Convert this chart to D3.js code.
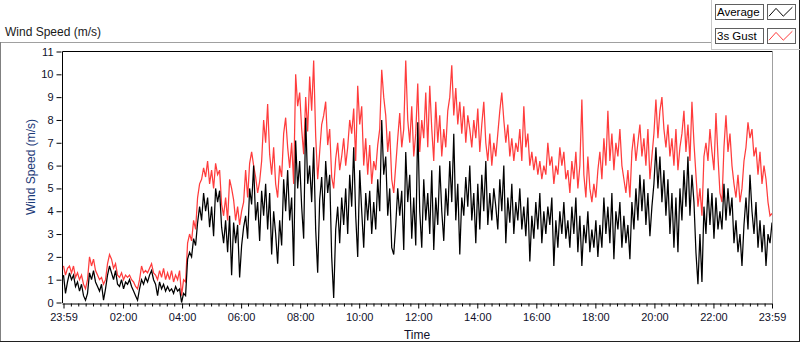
<!DOCTYPE html>
<html>
<head>
<meta charset="utf-8">
<script src="https://cdn.jsdelivr.net/npm/d3@7"></script>
<style>
  html, body { margin: 0; padding: 0; background: #ffffff; }
  svg { display: block; font-family: "Liberation Sans", Arial, sans-serif; }
</style>
</head>
<body>
<svg id="chart" width="800" height="342"></svg>
<script>
// ---- data (wind speed, m/s), samples evenly spread over the day 23:59 -> 23:59 ----
const averageSpeed = [
  1.2,0.4,0.9,1.3,1.0,1.2,0.7,0.9,0.5,0.8,
  0.3,0.1,0.4,1.3,1.0,1.4,0.9,0.7,0.5,0.8,
  0.1,0.6,1.2,1.6,1.3,1.0,1.4,0.8,0.7,1.0,
  0.6,0.9,0.8,1.0,0.7,0.5,0.3,0.1,0.6,1.0,
  0.8,1.1,0.9,1.2,1.4,1.0,0.8,0.3,0.9,0.6,
  0.8,0.5,0.7,0.5,0.6,0.4,0.7,0.5,0.6,0.0,
  0.4,0.3,1.9,2.2,2.0,2.8,2.5,3.5,4.2,3.6,
  4.8,4.0,4.6,3.3,4.2,2.9,5.0,4.4,4.9,3.3,
  2.6,3.6,2.2,3.8,1.2,3.5,2.6,3.4,1.1,2.5,
  3.3,3.8,2.8,5.0,4.3,6.0,3.6,4.4,2.7,4.9,
  3.8,5.2,3.2,4.8,2.1,4.0,3.0,1.7,3.6,2.5,
  5.4,4.0,5.8,3.6,4.6,1.6,7.1,5.0,6.2,4.2,
  2.8,8.1,5.2,6.0,4.4,6.8,3.2,1.3,4.5,5.5,
  3.6,6.2,4.8,5.6,2.0,0.2,3.2,4.2,2.6,4.6,
  3.4,5.0,3.0,5.6,4.2,6.8,3.8,2.0,5.8,4.0,
  2.4,4.8,3.6,4.9,3.0,4.4,3.2,5.4,4.0,8.0,
  5.6,6.4,3.8,5.0,2.4,2.1,3.4,5.0,3.8,4.9,
  2.3,6.6,4.4,5.6,2.8,4.6,2.5,7.9,4.0,2.4,
  5.4,3.6,4.8,3.0,5.8,2.3,4.6,3.4,6.0,4.0,
  2.7,5.0,3.8,6.2,4.4,7.4,3.6,5.2,2.1,4.6,
  3.8,5.5,4.2,6.0,3.6,4.8,2.6,5.2,3.2,5.6,
  4.0,6.2,3.4,4.8,3.6,5.0,4.2,3.2,5.4,4.0,
  6.0,2.6,4.6,3.5,5.2,3.0,4.4,3.6,5.0,3.2,
  4.2,2.9,4.6,1.8,3.8,2.8,4.4,3.2,4.8,2.6,
  4.0,3.0,4.2,3.4,4.6,1.6,3.6,2.4,4.0,3.0,
  4.4,2.8,3.6,2.4,4.2,3.0,4.6,2.2,3.8,1.6,
  3.4,2.6,4.0,2.2,3.2,2.4,3.6,2.0,3.4,2.4,
  4.6,3.0,4.2,2.6,4.8,1.9,4.0,3.2,4.4,2.4,
  3.8,2.6,3.4,1.9,4.4,3.2,5.0,3.6,5.6,4.0,
  5.4,3.4,4.8,2.9,4.2,5.2,6.8,5.0,6.4,4.4,
  5.8,3.8,5.4,3.0,4.8,2.4,4.6,2.2,5.0,3.6,
  5.8,4.2,6.4,3.8,5.6,4.4,2.2,0.8,3.0,0.9,
  4.2,3.0,5.0,3.4,4.8,2.8,4.6,3.2,4.0,3.2,
  5.2,3.6,5.0,3.8,4.6,2.6,3.6,2.2,3.0,1.6,
  3.4,4.6,3.2,5.6,4.0,3.0,4.4,2.4,3.6,2.2,
  3.4,1.6,3.0,2.6,3.5
];
const gustSpeed = [
  1.6,1.2,1.5,1.6,1.3,1.6,1.1,1.3,1.0,1.2,
  0.8,0.6,1.0,2.0,1.6,1.9,1.4,1.2,1.0,1.1,
  0.8,1.0,1.7,2.1,1.9,1.5,1.7,1.2,1.1,1.3,
  1.0,1.2,1.1,1.2,1.0,0.9,0.7,0.6,1.0,1.6,
  1.3,1.4,1.3,1.5,1.7,1.3,1.2,1.0,1.4,1.1,
  1.5,1.0,1.3,1.0,1.4,0.9,1.2,1.0,1.4,0.3,
  1.0,0.9,2.6,3.0,2.7,3.6,3.2,4.6,5.2,5.4,
  5.9,5.5,6.2,5.2,5.8,5.0,6.1,5.6,5.8,4.3,
  3.8,4.6,3.6,5.4,5.0,4.5,3.6,4.2,3.4,4.0,
  4.4,5.8,4.6,6.1,6.6,6.0,5.5,4.8,5.3,6.2,
  8.0,7.0,8.7,6.5,5.6,6.8,5.2,4.6,6.0,5.5,
  7.4,8.1,6.8,5.9,7.0,5.2,10.0,8.6,9.2,7.6,
  6.5,9.0,7.5,9.9,8.4,10.6,7.3,5.4,6.6,7.8,
  8.2,8.8,6.9,7.6,5.5,5.0,6.3,7.0,5.8,6.4,
  7.2,6.0,6.8,8.0,7.4,8.5,6.2,9.5,7.8,8.6,
  6.0,7.2,5.6,6.9,5.2,6.2,5.8,6.9,7.6,10.2,
  9.0,8.2,6.6,7.5,5.4,4.8,6.0,7.2,8.3,6.8,
  7.6,10.6,8.0,7.0,8.6,6.4,7.4,9.6,6.6,8.0,
  7.2,9.2,6.8,9.5,7.6,6.2,8.8,7.0,8.2,6.4,
  7.6,6.8,8.4,9.0,10.4,8.2,9.4,7.8,8.8,7.4,
  8.6,7.0,8.2,7.6,6.8,8.0,7.2,8.5,6.6,7.8,
  8.8,7.0,6.2,7.4,6.0,7.0,6.4,7.4,8.4,9.2,
  8.0,7.0,7.8,6.4,7.2,6.2,7.0,6.6,7.6,6.2,
  8.6,6.8,7.4,6.0,6.6,5.8,6.4,5.6,6.2,5.4,
  6.0,5.6,7.0,6.0,6.4,5.2,6.0,5.6,6.8,6.0,
  6.6,5.4,5.8,4.8,6.2,5.4,6.6,5.0,6.0,8.9,
  5.6,4.6,6.4,5.0,4.4,5.2,4.6,5.8,6.6,5.4,
  7.2,6.0,8.4,6.2,7.4,5.8,7.0,6.4,7.6,6.0,
  5.4,4.8,5.8,4.6,6.6,7.4,6.2,7.0,7.8,6.4,
  7.2,6.0,7.6,5.4,6.4,7.4,8.9,7.2,8.4,9.0,
  7.6,6.8,7.8,6.4,7.2,6.0,7.6,5.8,6.8,7.4,
  8.4,6.6,7.8,6.2,8.8,7.0,5.6,4.2,5.0,3.8,
  6.4,7.0,6.2,7.6,6.6,5.8,8.3,6.4,4.8,4.4,
  6.8,8.2,6.6,7.4,6.0,5.2,4.6,5.6,4.4,5.0,
  6.2,6.8,7.9,7.2,7.6,6.4,6.8,5.6,6.6,5.2,
  6.0,5.4,4.4,3.8,3.9
];
// x-axis: minutes after 23:59 of the previous day
const timeTickMinutes = [0,121,241,361,481,601,721,841,961,1081,1201,1321,1440];
const timeTickLabels  = ["23:59","02:00","04:00","06:00","08:00","10:00","12:00","14:00","16:00","18:00","20:00","22:00","23:59"];
const speedTicks = [0,1,2,3,4,5,6,7,8,9,10,11];
const seriesNames = ["Average","3s Gust"];
const seriesColors = ["#000000","#ff3c3c"];

// ---- drawing ----
const svg = d3.select("#chart");
const plot = {left: 62.5, right: 772.5, top: 51.5, bottom: 303};
const dayMinutes = 1440;
const sampleMinutes = averageSpeed.map((_, i) => i * dayMinutes / (averageSpeed.length - 1));

const x = d3.scaleLinear().domain([0, dayMinutes]).range([63.5, 772]);
const y = d3.scaleLinear().domain([0, 11]).range([302.5, 51.5]);

// outer frame
svg.append("line").attr("x1",0).attr("x2",711).attr("y1",42.5).attr("y2",42.5).attr("stroke","#a0a0a0");
svg.append("line").attr("x1",0.5).attr("x2",0.5).attr("y1",42).attr("y2",342).attr("stroke","#808080");
svg.append("line").attr("x1",0).attr("x2",800).attr("y1",341.5).attr("y2",341.5).attr("stroke","#202020");
svg.append("line").attr("x1",799.5).attr("x2",799.5).attr("y1",0).attr("y2",342).attr("stroke","#202020");
// legend panel edges
svg.append("line").attr("x1",711.5).attr("x2",711.5).attr("y1",0).attr("y2",49.5).attr("stroke","#c8c8c8");
svg.append("line").attr("x1",711).attr("x2",800).attr("y1",49.5).attr("y2",49.5).attr("stroke","#c8c8c8");

// title
svg.append("text").attr("x",5).attr("y",36).attr("font-size",12).attr("fill","#1a1a1a").text("Wind Speed (m/s)");

// clip
svg.append("clipPath").attr("id","clip").append("rect")
  .attr("x",plot.left).attr("y",plot.top).attr("width",plot.right-plot.left).attr("height",plot.bottom-plot.top);

// series: gust first, average on top
const series = [gustSpeed, averageSpeed];
const colors = [seriesColors[1], seriesColors[0]];
series.forEach((vals, k) => {
  const line = d3.line().x((d, i) => x(sampleMinutes[i])).y(d => y(d));
  svg.append("path").attr("d", line(vals)).attr("fill","none")
    .attr("stroke", colors[k]).attr("stroke-width",1.25).attr("stroke-linejoin","miter")
    .attr("clip-path","url(#clip)");
});

// plot border (top/left dark, right/bottom light)
svg.append("line").attr("x1",plot.left).attr("x2",plot.right).attr("y1",plot.top).attr("y2",plot.top).attr("stroke","#000");
svg.append("line").attr("x1",plot.left).attr("x2",plot.left).attr("y1",plot.top).attr("y2",plot.bottom).attr("stroke","#000");
svg.append("line").attr("x1",plot.right).attr("x2",plot.right).attr("y1",plot.top).attr("y2",plot.bottom).attr("stroke","#a0a0a0");

// y axis
const yAxis = d3.axisLeft(y).tickValues(speedTicks).tickSize(5).tickPadding(3).tickFormat(d3.format("d"));
const gy = svg.append("g").attr("transform",`translate(${plot.left - 1},0)`).call(yAxis);
gy.select(".domain").remove();
gy.selectAll("text").attr("font-size",11).attr("fill","#10102a").attr("font-family","Liberation Sans, Arial, sans-serif");
gy.selectAll("line").attr("stroke","#000");

// x axis with minor ticks
const minor = d3.range(15, dayMinutes, 15).filter(m => !timeTickMinutes.some(t => Math.abs(t - m) < 3));
const gxMinor = svg.append("g").attr("transform","translate(0,303.5)")
  .call(d3.axisBottom(x).tickValues(minor).tickSize(3).tickFormat(""));
gxMinor.select(".domain").remove();
gxMinor.selectAll("line").attr("stroke","#000");
const xAxis = d3.axisBottom(x).tickValues(timeTickMinutes).tickSize(5).tickPadding(5)
  .tickFormat((d, i) => timeTickLabels[i]);
const gx = svg.append("g").attr("transform","translate(0,303.5)").call(xAxis);
gx.select(".domain").attr("d", `M${plot.left},0.5H${plot.right}`).attr("stroke","#000");
gx.selectAll("line").attr("stroke","#000");
gx.selectAll("text").attr("font-size",11).attr("fill","#10102a").attr("font-family","Liberation Sans, Arial, sans-serif");

// axis titles
svg.append("text").attr("x",417).attr("y",339).attr("text-anchor","middle").attr("font-size",12).attr("fill","#10102a").text("Time");
svg.append("text").attr("transform","translate(35,167) rotate(-90)").attr("text-anchor","middle")
  .attr("font-size",12).attr("fill","#1c3a78").text("Wind Speed (m/s)");

// legend
const legend = svg.append("g");
const iconShape = [[0,0.85],[0.27,0.2],[0.55,0.85],[0.9,0.1]];
seriesNames.forEach((name, k) => {
  const top = 4 + k * 24;
  const g = legend.append("g");
  // label box
  g.append("rect").attr("x",715.5).attr("y",top+0.5).attr("width",48).attr("height",15).attr("fill","#fff").attr("stroke","#606060");
  g.append("text").attr("x",717).attr("y",top+12).attr("font-size",11.5).attr("fill","#000").text(name);
  // icon box
  g.append("rect").attr("x",767.5).attr("y",top+0.5).attr("width",28).attr("height",15).attr("fill","#fff").attr("stroke","#606060");
  const lx = d3.scaleLinear().domain([0,1]).range([769, 795]);
  const ly = d3.scaleLinear().domain([0,1]).range([top+2, top+14]);
  g.append("path").attr("d", d3.line().x(d => lx(d[0])).y(d => ly(d[1]))(iconShape))
    .attr("fill","none").attr("stroke",seriesColors[k]).attr("stroke-width",1);
});
</script>
</body>
</html>
